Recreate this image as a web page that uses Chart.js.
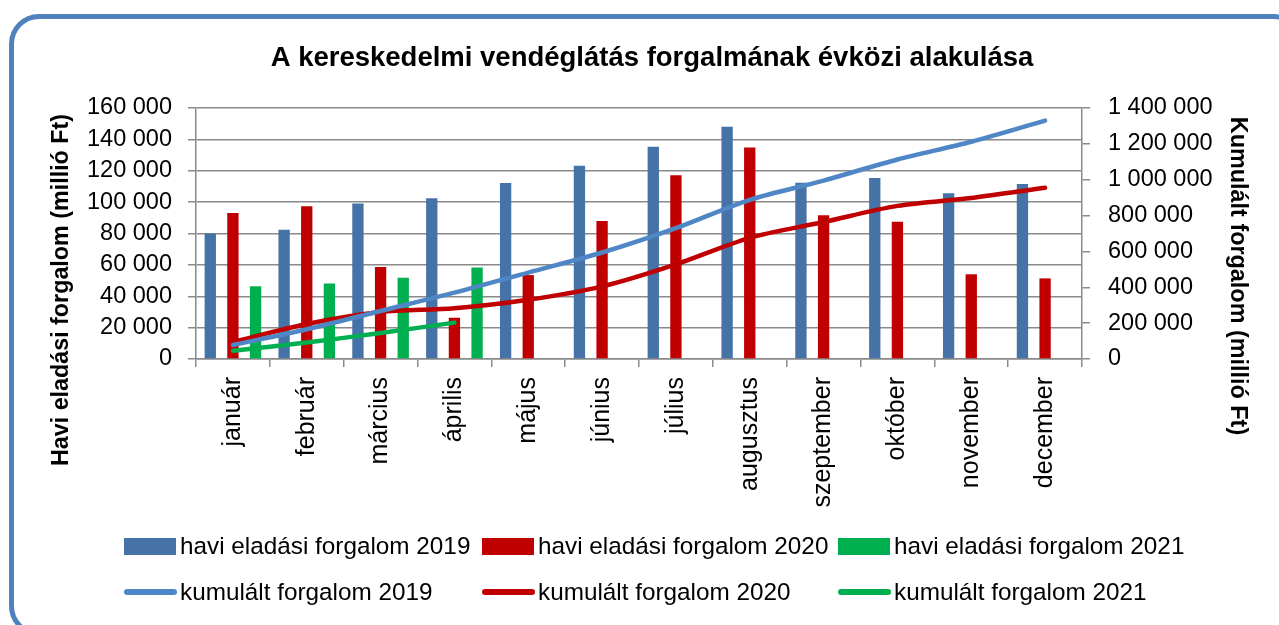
<!DOCTYPE html>
<html>
<head>
<meta charset="utf-8">
<script src="https://cdn.jsdelivr.net/npm/chart.js"></script>
<style>
html, body { margin: 0; padding: 0; background: #fff; }
#wrap { position: relative; width: 1279px; height: 625px; overflow: hidden; }
#frame { position: absolute; left: 9px; top: 14px; width: 1295px; height: 622px; border: 5px solid #4f81bd; border-radius: 30px; box-sizing: border-box; }
canvas { position: absolute; left: 0; top: 0; }
</style>
</head>
<body>
<div id="wrap">
  <div id="frame"></div>
  <canvas id="forgalomChart" width="1279" height="625"></canvas>
</div>
<script>
// adatok
const months = ['január', 'február', 'március', 'április', 'május', 'június', 'július', 'augusztus', 'szeptember', 'október', 'november', 'december'];

const havi2019 = [80000, 82400, 99200, 102400, 112200, 123200, 135300, 148100, 112400, 115400, 105600, 111500];
const havi2020 = [93000, 97300, 58600, 26300, 53500, 88000, 117100, 134900, 91600, 87500, 54000, 51400];
const havi2021 = [46300, 48200, 51800, 58400, null, null, null, null, null, null, null, null];

const kum2019 = [78000, 166000, 268000, 370000, 482000, 594000, 730000, 888000, 995000, 1113000, 1212000, 1330000];
const kum2020 = [95000, 195000, 262000, 283000, 330000, 405000, 528000, 676000, 764000, 854000, 898000, 955000];
const kum2021 = [46000, 92000, 145000, 203000, null, null, null, null, null, null, null, null];

const leftTicks = [0, 20000, 40000, 60000, 80000, 100000, 120000, 140000, 160000];
const rightTicks = [0, 200000, 400000, 600000, 800000, 1000000, 1200000, 1400000];

const chartTitle = 'A kereskedelmi vendéglátás forgalmának évközi alakulása';
const leftTitle = 'Havi eladási forgalom (millió Ft)';
const rightTitle = 'Kumulált forgalom (millió Ft)';

const FONT = '"Liberation Sans", Arial, sans-serif';
const GRID = '#8a8a8a';

function fmt(v) {
    return String(v).replace(/\B(?=(\d{3})+(?!\d))/g, ' ');
}

// cím, tengelycímek és jelmagyarázat kézzel rajzolva
const extraText = {
    id: 'extraText',
    afterDraw(chart) {
        const ctx = chart.ctx;
        ctx.save();
        ctx.fillStyle = '#000';
        ctx.textBaseline = 'middle';

        ctx.textAlign = 'center';
        ctx.font = 'bold 27.5px ' + FONT;
        ctx.fillText(chartTitle, 652, 58);

        ctx.font = 'bold 23.3px ' + FONT;
        ctx.save();
        ctx.translate(62, 290);
        ctx.rotate(-Math.PI / 2);
        ctx.fillText(leftTitle, 0, 0);
        ctx.restore();

        ctx.font = 'bold 23.4px ' + FONT;
        ctx.save();
        ctx.translate(1237, 276);
        ctx.rotate(Math.PI / 2);
        ctx.fillText(rightTitle, 0, 0);
        ctx.restore();

        // jelmagyarázat
        const cols = [124, 482, 838];
        const ds = chart.data.datasets;
        ctx.textAlign = 'left';
        ctx.font = '24.3px ' + FONT;
        for (let i = 0; i < 3; i++) {
            const bar = ds[i];
            ctx.fillStyle = bar.backgroundColor;
            ctx.fillRect(cols[i], 538, 52, 17);
            ctx.fillStyle = '#000';
            ctx.fillText(bar.label, cols[i] + 56, 547);

            const line = ds[i + 3];
            ctx.strokeStyle = line.borderColor;
            ctx.lineWidth = 6;
            ctx.lineCap = 'round';
            ctx.beginPath();
            ctx.moveTo(cols[i] + 3, 592);
            ctx.lineTo(cols[i] + 50, 592);
            ctx.stroke();
            ctx.fillText(line.label, cols[i] + 56, 593);
        }
        ctx.restore();
    }
};

const barOpts = { type: 'bar', yAxisID: 'yL', categoryPercentage: 0.92, barPercentage: 0.5, order: 2 };
const lineOpts = { type: 'line', yAxisID: 'yR', borderWidth: 4.5, pointRadius: 0, tension: 0.3, fill: false, borderCapStyle: 'round', order: 1 };

const ctx = document.getElementById('forgalomChart').getContext('2d');
const chart = new Chart(ctx, {
    data: {
        labels: months,
        datasets: [
            { ...barOpts, label: 'havi eladási forgalom 2019', data: havi2019, backgroundColor: '#4572a7' },
            { ...barOpts, label: 'havi eladási forgalom 2020', data: havi2020, backgroundColor: '#c00000' },
            { ...barOpts, label: 'havi eladási forgalom 2021', data: havi2021, backgroundColor: '#00b050' },
            { ...lineOpts, label: 'kumulált forgalom 2019', data: kum2019, borderColor: '#4f86c6' },
            { ...lineOpts, label: 'kumulált forgalom 2020', data: kum2020, borderColor: '#c00000' },
            { ...lineOpts, label: 'kumulált forgalom 2021', data: kum2021, borderColor: '#00b050' }
        ]
    },
    options: {
        responsive: false,
        animation: false,
        layout: { padding: { top: 108, left: 0, right: 0, bottom: 0 } },
        plugins: {
            legend: { display: false },
            tooltip: { enabled: false }
        },
        scales: {
            x: {
                grid: { drawOnChartArea: false, drawTicks: true, tickLength: 8, color: GRID, lineWidth: 1.5, offset: true },
                border: { color: GRID, width: 1.5 },
                ticks: { minRotation: 90, maxRotation: 90, autoSkip: false, padding: 10, color: '#000', font: { size: 25, family: FONT } },
                afterFit(s) { s.height = 266; }
            },
            yL: {
                position: 'left',
                min: 0,
                max: 160000,
                afterBuildTicks(s) { s.ticks = leftTicks.map(v => ({ value: v })); },
                ticks: { padding: 16, color: '#000', font: { size: 23.5, family: FONT }, callback: v => fmt(v) },
                grid: { color: GRID, lineWidth: 1.5, tickLength: 8 },
                border: { color: GRID, width: 1.5 },
                afterFit(s) { s.width = 196; }
            },
            yR: {
                position: 'right',
                min: 0,
                max: 1400000,
                afterBuildTicks(s) { s.ticks = rightTicks.map(v => ({ value: v })); },
                ticks: { padding: 18, color: '#000', font: { size: 23.5, family: FONT }, callback: v => fmt(v) },
                grid: { drawOnChartArea: false, color: GRID, lineWidth: 1.5, tickLength: 8 },
                border: { color: GRID, width: 1.5 },
                afterFit(s) { s.width = 197; }
            }
        }
    },
    plugins: [extraText]
});
</script>
</body>
</html>
